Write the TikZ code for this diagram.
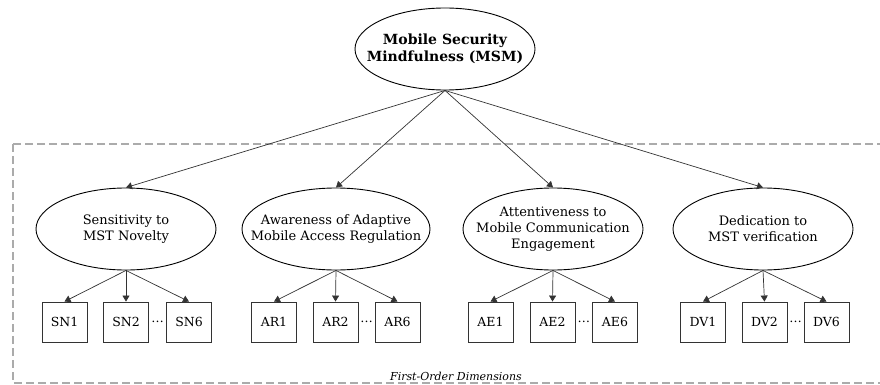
\documentclass[tikz,border=0pt]{standalone}
\usepackage{fontspec}
\setmainfont{DejaVu Serif}
\usetikzlibrary{arrows.meta,shapes.geometric,calc}
\begin{document}
\begin{tikzpicture}[x=1pt,y=-1pt,
  latent/.style={draw=black, line width=0.9pt, ellipse,
    inner xsep=-40pt, inner ysep=-20pt,
    minimum width=180pt, minimum height=82pt, align=center,
    font=\fontsize{13}{16}\selectfont},
  topfactor/.style={latent, font=\fontsize{14}{17}\selectfont\bfseries},
  indicator/.style={draw=black!80, line width=0.9pt, rectangle, inner sep=0pt,
    minimum width=45pt, minimum height=40pt, font=\fontsize{12.5}{15}\selectfont},
  link/.style={draw=black!80, line width=0.7pt, -{Triangle[length=6pt,width=7pt]}},
  framebox/.style={draw=black!33, line width=1.3pt, dash pattern=on 8pt off 4pt}
]
\useasboundingbox (0,0) rectangle (880,385);
\clip (0,0) rectangle (880,385);

% dashed frame around the first-order dimensions
\draw[framebox] (13,144) rectangle (900,383);
\node[font=\fontsize{11}{13}\selectfont\itshape] (cap) at (456,376) {First-Order Dimensions};

% second-order construct
\node[topfactor] (msm) at (445,49) {Mobile Security\\Mindfulness (MSM)};

% first-order dimensions
\node[latent] (sn) at (126,229) {Sensitivity to\\MST Novelty};
\node[latent, minimum width=188pt] (ar) at (336,229) {Awareness of Adaptive\\Mobile Access Regulation};
\node[latent] (ae) at (553,229) {Attentiveness to\\Mobile Communication\\Engagement};
\node[latent] (dv) at (763,229) {Dedication to\\MST verification};

\foreach \f in {sn,ar,ae,dv}
  \draw[link] (msm.south) -- (\f.north);

% indicators
\foreach \f/\lab/\xa/\xb/\xc in {sn/SN/64.5/126/189, ar/AR/274/335.5/397.5,
                                 ae/AE/490.5/552.5/615, dv/DV/703/764.5/826.5}{
  \node[indicator] (\f1) at (\xa,322) {\lab1};
  \node[indicator] (\f2) at (\xb,322) {\lab2};
  \node[indicator] (\f6) at (\xc,322) {\lab6};
  \node[inner sep=0pt, font=\fontsize{12.5}{15}\selectfont] (\f dots) at ($(\f2.east)!0.5!(\f6.west)$) {\ldots};
  \foreach \i in {1,2,6}
    \draw[link] (\f.south) -- (\f\i.north);
}
\end{tikzpicture}
\end{document}
